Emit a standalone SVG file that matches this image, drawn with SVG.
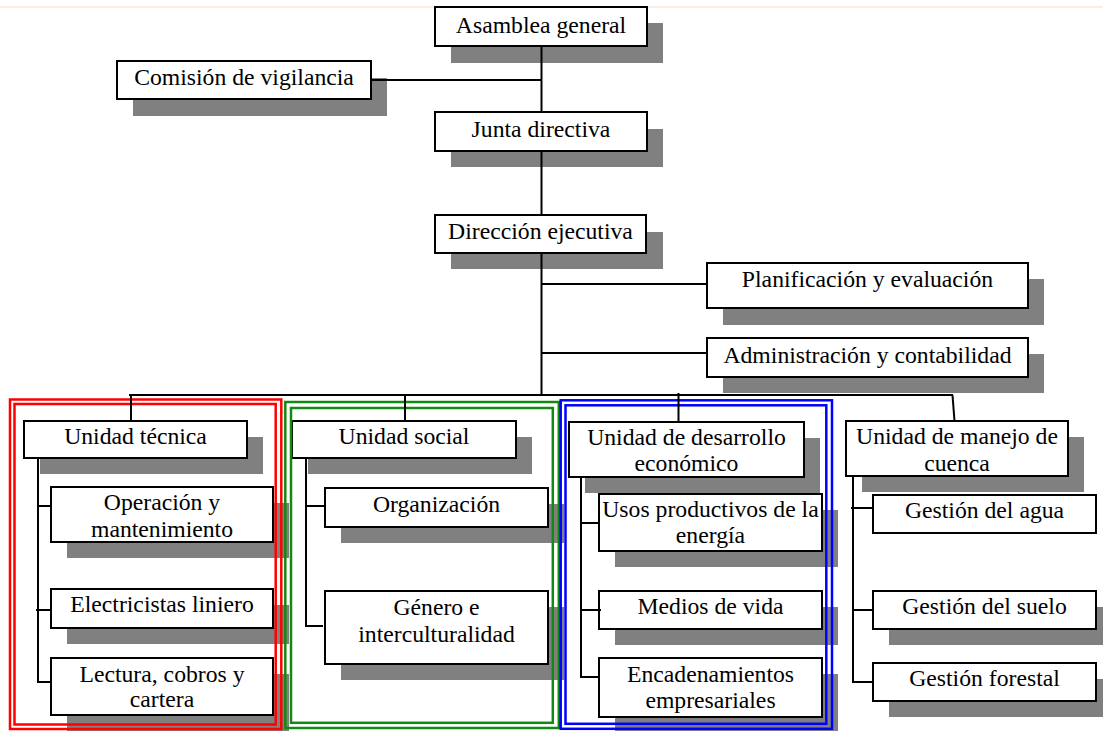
<svg xmlns="http://www.w3.org/2000/svg" width="1103" height="731" viewBox="0 0 1103 731">
<style>
.s{fill:#808080}
.b{fill:#fff;stroke:#000;stroke-width:2}
.t{font-family:'Liberation Serif','Tinos','DejaVu Serif',serif;font-size:23.7px;fill:#000;text-anchor:middle}
.c{stroke:#000;stroke-width:2;fill:none}
.fr{fill:none;stroke-width:2.5}
</style>
<rect x="0" y="0" width="1103" height="731" fill="#fff"/>
<line x1="0" y1="7" x2="1103" y2="7" stroke="#f7dcc0" stroke-width="1"/>
<g id="n-asamblea"><rect class="s" x="451" y="23" width="212" height="40"/><rect class="b" x="435" y="7" width="212" height="39"/><text class="t" x="541" y="33">Asamblea general</text></g>
<g id="n-comision"><rect class="s" x="133" y="78" width="254" height="38"/><rect class="b" x="117" y="61" width="254" height="38"/><text class="t" x="244" y="85">Comisión de vigilancia</text></g>
<g id="n-junta"><rect class="s" x="451" y="129" width="212" height="38"/><rect class="b" x="435" y="112" width="212" height="39"/><text class="t" x="541" y="137">Junta directiva</text></g>
<g id="n-direccion"><rect class="s" x="451" y="232" width="212" height="37"/><rect class="b" x="435" y="215" width="211" height="38"/><text class="t" x="540.5" y="239">Dirección ejecutiva</text></g>
<g id="n-planificacion"><rect class="s" x="723" y="279" width="321" height="46"/><rect class="b" x="707" y="263" width="321" height="45"/><text class="t" x="867.5" y="287">Planificación y evaluación</text></g>
<g id="n-administracion"><rect class="s" x="723" y="354" width="321" height="39"/><rect class="b" x="707" y="338" width="321" height="39"/><text class="t" x="867.5" y="363">Administración y contabilidad</text></g>
<g id="n-tecnica"><rect class="s" x="40" y="437" width="223" height="37"/><rect class="b" x="24" y="421" width="223" height="37"/><text class="t" x="135.5" y="444">Unidad técnica</text></g>
<g id="n-operacion"><rect class="s" x="67" y="503" width="222" height="55"/><rect class="b" x="51" y="487" width="222" height="55"/><text class="t" x="162" y="510">Operación y</text><text class="t" x="162" y="537">mantenimiento</text></g>
<g id="n-electricistas"><rect class="s" x="67" y="605" width="222" height="39"/><rect class="b" x="51" y="589" width="222" height="39"/><text class="t" x="162" y="612">Electricistas liniero</text></g>
<g id="n-lectura"><rect class="s" x="67" y="674" width="222" height="57"/><rect class="b" x="51" y="658" width="222" height="57"/><text class="t" x="162" y="682">Lectura, cobros y</text><text class="t" x="162" y="707">cartera</text></g>
<g id="n-social"><rect class="s" x="308" y="437" width="224" height="37"/><rect class="b" x="292" y="421" width="224" height="37"/><text class="t" x="404" y="444">Unidad social</text></g>
<g id="n-organizacion"><rect class="s" x="341" y="504" width="223" height="39"/><rect class="b" x="325" y="488" width="223" height="39"/><text class="t" x="436.5" y="512">Organización</text></g>
<g id="n-genero"><rect class="s" x="341" y="607" width="223" height="73"/><rect class="b" x="325" y="591" width="223" height="73"/><text class="t" x="436.5" y="615">Género e</text><text class="t" x="436.5" y="642">interculturalidad</text></g>
<g id="n-desarrollo"><rect class="s" x="585" y="438" width="235" height="55"/><rect class="b" x="569" y="422" width="235" height="55"/><text class="t" x="686.5" y="445">Unidad de desarrollo</text><text class="t" x="686.5" y="471">económico</text></g>
<g id="n-usos"><rect class="s" x="615" y="510" width="223" height="57"/><rect class="b" x="599" y="494" width="223" height="57"/><text class="t" x="710.5" y="517">Usos productivos de la</text><text class="t" x="710.5" y="543">energía</text></g>
<g id="n-medios"><rect class="s" x="615" y="607" width="223" height="38"/><rect class="b" x="599" y="591" width="223" height="38"/><text class="t" x="710.5" y="614">Medios de vida</text></g>
<g id="n-encadenamientos"><rect class="s" x="615" y="674" width="223" height="59"/><rect class="b" x="599" y="658" width="223" height="59"/><text class="t" x="710.5" y="682">Encadenamientos</text><text class="t" x="710.5" y="708">empresariales</text></g>
<g id="n-manejo"><rect class="s" x="862" y="437" width="222" height="55"/><rect class="b" x="846" y="421" width="222" height="55"/><text class="t" x="957" y="444">Unidad de manejo de</text><text class="t" x="957" y="471">cuenca</text></g>
<g id="n-agua"><rect class="b" x="873" y="495" width="223" height="38"/><text class="t" x="984.5" y="518">Gestión del agua</text></g>
<g id="n-suelo"><rect class="s" x="889" y="607" width="223" height="38"/><rect class="b" x="873" y="591" width="223" height="38"/><text class="t" x="984.5" y="614">Gestión del suelo</text></g>
<g id="n-forestal"><rect class="s" x="889" y="679" width="223" height="38"/><rect class="b" x="873" y="663" width="223" height="38"/><text class="t" x="984.5" y="686">Gestión forestal</text></g>
<g id="frames">
<rect class="fr" stroke="#ff0000" x="10" y="399.5" width="271.3" height="329.5"/>
<rect class="fr" stroke="#ff0000" x="14.5" y="404" width="261.2" height="320.5"/>
<rect class="fr" stroke="#128a12" x="285.3" y="402" width="273.5" height="326"/>
<rect class="fr" stroke="#128a12" x="291" y="408" width="261.8" height="314.8"/>
<rect class="fr" stroke="#0000ff" x="560.7" y="400.3" width="271.3" height="328.5"/>
<rect class="fr" stroke="#0000ff" x="565.5" y="405.3" width="260.8" height="318.5"/>
</g>
<g id="connectors">
<line class="c" x1="541.5" y1="46" x2="541.5" y2="112"/>
<line class="c" x1="371" y1="80" x2="541.5" y2="80"/>
<line class="c" x1="541.5" y1="151" x2="541.5" y2="215"/>
<line class="c" x1="541.5" y1="253" x2="541.5" y2="395"/>
<line class="c" x1="541.5" y1="284" x2="707" y2="284"/>
<line class="c" x1="541.5" y1="353" x2="707" y2="353"/>
<line class="c" x1="129" y1="395" x2="953" y2="395"/>
<line class="c" x1="131" y1="395" x2="131" y2="421"/>
<line class="c" x1="405" y1="395" x2="405" y2="421"/>
<line class="c" x1="678.5" y1="393" x2="678.5" y2="422"/>
<line class="c" x1="952.5" y1="395" x2="954.5" y2="421"/>
<line class="c" x1="38" y1="458" x2="38" y2="682"/>
<line class="c" x1="38" y1="506" x2="51" y2="506"/>
<line class="c" x1="36" y1="610" x2="51" y2="610"/>
<line class="c" x1="37" y1="682" x2="51" y2="682"/>
<line class="c" x1="306" y1="458" x2="306" y2="626"/>
<line class="c" x1="306" y1="506" x2="325" y2="506"/>
<line class="c" x1="305" y1="626" x2="323" y2="626"/>
<line class="c" x1="581" y1="477" x2="581" y2="677"/>
<line class="c" x1="581" y1="523" x2="599" y2="523"/>
<line class="c" x1="581" y1="610" x2="601" y2="610"/>
<line class="c" x1="580" y1="677" x2="599" y2="677"/>
<line class="c" x1="853" y1="476" x2="853" y2="682"/>
<line class="c" x1="851" y1="508" x2="873" y2="508"/>
<line class="c" x1="853" y1="610" x2="873" y2="610"/>
<line class="c" x1="852" y1="682" x2="873" y2="682"/>
</g>
</svg>
